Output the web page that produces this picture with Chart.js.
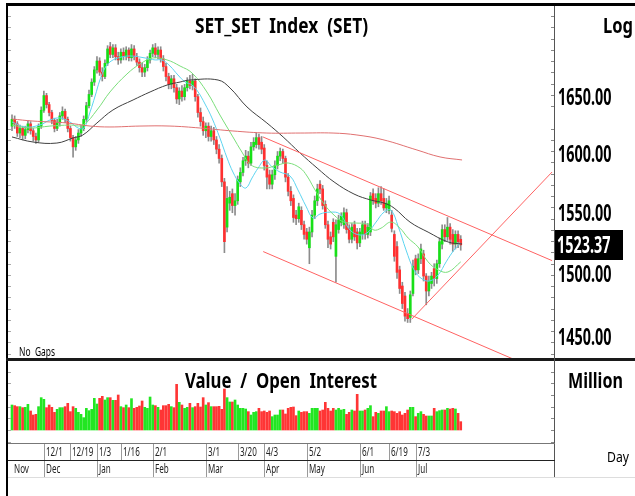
<!DOCTYPE html>
<html><head><meta charset="utf-8">
<title>SET_SET Index (SET)</title>
<script src="https://cdn.jsdelivr.net/npm/chart.js@4.4.1/dist/chart.umd.min.js"></script>
<style>
html,body{margin:0;padding:0;background:#fff;}
#wrap{position:relative;width:635px;height:496px;overflow:hidden;background:#fff;font-family:"Noto Sans",sans-serif;}
#wrap canvas{position:absolute;left:0;}
.t{position:absolute;white-space:pre;transform-origin:0 0;line-height:1;color:#000;}
.b{font-weight:bold;}
.ln{position:absolute;}
</style></head><body>
<div id="wrap">
<canvas id="priceChart" width="635" height="358" style="top:0px"></canvas>
<canvas id="volChart" width="635" height="118" style="top:360px"></canvas>
<div class="ln" style="left:6px;top:3px;width:629px;height:3px;background:#000"></div>
<div class="ln" style="left:6px;top:3px;width:2px;height:493px;background:#000"></div>
<div class="ln" style="left:6px;top:358px;width:629px;height:3px;background:#1a1a1a"></div>
<div class="ln" style="left:554px;top:6px;width:1px;height:472px;background:#555"></div>
<div class="ln" style="left:8px;top:443px;width:547px;height:1px;background:#777"></div>
<div class="ln" style="left:8px;top:460px;width:547px;height:1px;background:#222"></div>
<div class="ln" style="left:8px;top:477px;width:627px;height:1px;background:#ddd"></div>
<div class="ln" style="left:8px;top:6px;width:3px;height:352px;background:repeating-linear-gradient(to bottom,transparent 0,transparent 10.25px,#aaa 10.25px,#aaa 11.25px)"></div>
<div class="ln" style="left:8px;top:361px;width:3px;height:82px;background:repeating-linear-gradient(to bottom,transparent 0,transparent 10.7px,#aaa 10.7px,#aaa 11.7px)"></div>
<div class="ln" style="left:551px;top:6px;width:3px;height:352px;background:repeating-linear-gradient(to bottom,transparent 0,transparent 10.25px,#888 10.25px,#888 11.25px)"></div>
<div class="ln" style="left:551px;top:361px;width:3px;height:82px;background:repeating-linear-gradient(to bottom,transparent 0,transparent 10.7px,#888 10.7px,#888 11.7px)"></div>

<div class="t b" data-w="173" style="left:195px;top:13px;font-size:22px">SET_SET  Index  (SET)</div>
<div class="t b" data-w="30" style="left:603px;top:13px;font-size:22px">Log</div>
<div class="t" data-w="36" style="left:19px;top:346px;font-size:12px">No  Gaps</div>
<div class="t b" data-w="192" style="left:185px;top:368px;font-size:22px">Value  /  Open  Interest</div>
<div class="t b" data-w="55" style="left:568px;top:368px;font-size:22px">Million</div>
<div class="t" data-w="22" style="left:607px;top:450px;font-size:14px">Day</div>
</div>
<script>
// ---- data ----
const opens = [
1624,1630,1626,1618,1622,1616,1621,1626,1620,1615,
1612,1624,1638,1651,1643,1636,1629,1622,1627,1633,
1637,1630,1622,1614,1606,1612,1618,1622,1630,1642,
1652,1663,1674,1682,1672,1668,1680,1695,1688,1694,
1686,1683,1690,1686,1692,1685,1693,1686,1681,1676,
1672,1676,1683,1689,1694,1688,1692,1684,1677,1668,
1661,1666,1658,1648,1655,1650,1658,1664,1660,1664,
1650,1636,1628,1620,1624,1615,1620,1612,1604,1596,
1576,1538,1558,1566,1556,1560,1576,1584,1594,1598,
1592,1606,1608,1614,1610,1605,1590,1582,1574,1582,
1590,1598,1602,1596,1580,1568,1562,1548,1545,1552,
1540,1534,1521,1534,1548,1560,1574,1570,1557,1540,
1530,1542,1514,1536,1542,1540,1550,1537,1528,1540,
1534,1525,1532,1540,1532,1534,1566,1562,1558,1566,
1562,1554,1552,1548,1532,1522,1503,1490,1482,1468,
1465,1484,1512,1503,1512,1516,1498,1486,1492,1504,
1496,1508,1524,1536,1530,1538,1532,1524,1532,1528];
const highs = [
1634,1633,1628,1625,1624,1624,1629,1628,1622,1618,
1626,1641,1655,1653,1645,1638,1631,1630,1636,1641,
1639,1632,1624,1616,1615,1621,1625,1633,1645,1656,
1666,1677,1686,1685,1676,1683,1696,1699,1697,1697,
1690,1693,1694,1695,1694,1697,1696,1689,1684,1680,
1679,1686,1692,1697,1698,1695,1695,1687,1680,1671,
1669,1669,1661,1658,1660,1661,1667,1669,1670,1666,
1652,1640,1632,1627,1627,1624,1623,1615,1608,1599,
1579,1572,1568,1570,1566,1581,1588,1597,1603,1602,
1610,1614,1618,1617,1615,1608,1594,1586,1586,1594,
1602,1605,1604,1598,1583,1572,1565,1552,1558,1555,
1543,1537,1538,1552,1564,1574,1577,1573,1560,1543,
1534,1545,1544,1548,1550,1554,1553,1540,1541,1543,
1537,1537,1543,1543,1541,1567,1570,1566,1571,1572,
1570,1562,1564,1552,1535,1526,1506,1493,1485,1472,
1486,1511,1515,1516,1524,1519,1500,1498,1501,1508,
1511,1529,1540,1540,1546,1541,1536,1535,1535,1531];
const lows = [
1620,1622,1615,1614,1612,1613,1618,1617,1611,1609,
1610,1622,1636,1640,1633,1626,1619,1620,1624,1630,
1627,1619,1611,1597,1603,1609,1615,1620,1628,1640,
1650,1660,1671,1669,1664,1666,1678,1685,1685,1683,
1679,1680,1683,1683,1682,1682,1683,1678,1672,1668,
1668,1673,1680,1686,1685,1684,1681,1673,1664,1657,
1657,1654,1644,1643,1646,1647,1655,1657,1656,1646,
1632,1624,1616,1614,1611,1611,1608,1600,1592,1572,
1517,1534,1552,1550,1548,1557,1572,1581,1590,1588,
1590,1603,1605,1604,1600,1586,1570,1570,1570,1578,
1587,1594,1592,1576,1564,1556,1542,1540,1542,1536,
1528,1524,1508,1530,1545,1556,1566,1553,1537,1521,
1520,1526,1493,1533,1539,1537,1533,1525,1525,1527,
1520,1522,1528,1528,1529,1531,1557,1554,1555,1557,
1552,1550,1549,1534,1510,1496,1484,1472,1462,1461,
1461,1482,1499,1500,1508,1494,1475,1482,1488,1490,
1492,1505,1520,1526,1527,1524,1518,1520,1521,1519];
const closes = [
1630,1626,1618,1622,1616,1621,1626,1620,1615,1612,
1624,1638,1651,1643,1636,1629,1622,1627,1633,1637,
1630,1622,1614,1606,1612,1618,1622,1630,1642,1652,
1663,1674,1682,1672,1668,1680,1693,1688,1694,1686,
1683,1690,1686,1692,1685,1693,1686,1681,1676,1672,
1676,1683,1689,1694,1688,1692,1684,1677,1668,1661,
1666,1658,1648,1655,1650,1658,1664,1660,1664,1650,
1636,1628,1620,1624,1615,1620,1612,1604,1596,1576,
1526,1562,1563,1556,1560,1578,1584,1594,1598,1592,
1606,1610,1614,1608,1604,1590,1580,1574,1582,1590,
1598,1602,1596,1580,1568,1560,1546,1545,1555,1540,
1532,1528,1534,1548,1560,1570,1570,1556,1540,1528,
1524,1530,1540,1544,1547,1550,1536,1528,1538,1530,
1525,1534,1540,1532,1538,1564,1560,1558,1566,1560,
1554,1558,1560,1537,1514,1501,1488,1476,1466,1464,
1483,1506,1503,1512,1520,1498,1486,1494,1498,1496,
1508,1526,1536,1530,1538,1528,1524,1532,1526,1523.37];
// traded value, billion baht (panel "Value / Open Interest", Million)
const volumes = [
50,48.7,46.7,46.7,44.7,45.3,51.3,38,30,31.3,
46.7,64.7,61.3,44.7,50,45.3,35.3,41.3,44.7,44.7,
46.7,53.3,36.7,46.7,43.3,35.3,31.3,24.7,43.3,38.7,
41.3,63.3,52,63.3,67.3,60,64.7,64.7,59.3,59.3,
70,46.7,44.7,50,44.7,62.7,43.3,45.3,48,58,
45.3,43.3,66,50,48.7,45.3,40,48.7,48.7,51.3,
46.7,44.7,91.3,55.3,50,43.3,45.3,53.3,44.7,46.7,
53.3,46,64.7,50,54.7,46.7,46.7,46.7,47.3,41.3,
82,64.7,56,56,60,50,43.3,43.3,42,36.7,
30,35.3,36.7,43.3,36.7,38,35.3,38,26.7,30,
30,40,40,32,43.3,45.3,46,28.7,38,35.3,
36.7,36.7,33.3,43.3,43.3,43.3,38,40,55.3,43.3,
38,43.3,40,43.3,40,41.3,31.3,35.3,40,38,
71.3,38,38,40,43.3,48.7,26.7,35.3,33.3,38,
38,46.7,36.7,38,36.7,33.3,36.7,30,33.3,40,
45.3,45.3,26.7,33.3,36.7,31.3,28,28,28,43.3,
36.7,38.7,40,40,43.3,42,43.3,42,33.3,16.7];
// moving averages: [day index, price]
const cyanMA = [[0,1627.7],[4.9,1623.3],[10.5,1625.0],[14.3,1629.4],[18.1,1631.2],[21.8,1627.7],[24.9,1622.4],[27.1,1622.4],[29.4,1636.5],[31.3,1650.6],[33.1,1664.9],[35,1675.7],[36.9,1681.2],[39.9,1684.8],[44.4,1686.6],[50.1,1684.8],[53.9,1683.0],[56.5,1683.0],[59.5,1677.5],[62.5,1669.4],[65.2,1663.1],[67.8,1660.4],[70.1,1654.2],[72.7,1643.5],[75.3,1631.2],[78.3,1613.7],[81,1596.4],[83.2,1584.4],[85.9,1574.2],[88.1,1570.8],[90.4,1579.3],[92.7,1587.8],[95.3,1594.7],[97.6,1589.5],[100.9,1584.4],[104.7,1581.0],[107.7,1569.1],[110.7,1555.6],[113.4,1545.5],[116,1548.9],[119.8,1550.5],[123.5,1548.9],[127.3,1535.6],[131.1,1531.5],[134.1,1533.9],[137.1,1542.2],[140.1,1550.5],[142.7,1552.2],[145.4,1538.9],[148.4,1519.2],[151.4,1503.0],[154.4,1495.7],[157.4,1494.1],[160.5,1498.9],[163.5,1509.5],[166.5,1519.2],[169,1525.0]];
const greenMA = [[0,1625.0],[6.8,1622.4],[14.3,1624.1],[21.8,1625.0],[26.7,1625.0],[32,1638.2],[36.9,1654.2],[43.3,1670.3],[48.2,1679.3],[53.1,1684.8],[58.4,1683.0],[63.3,1677.5],[67.8,1671.2],[73.4,1654.2],[78.3,1633.8],[83.2,1614.6],[86.6,1601.5],[90,1590.4],[95.3,1587.8],[100.2,1590.4],[104,1592.1],[108.5,1587.8],[111.1,1581.0],[113.7,1570.8],[117.5,1557.3],[121.3,1548.0],[125,1542.2],[129.6,1541.4],[133.7,1540.5],[136.3,1535.6],[139,1537.2],[142.7,1542.2],[146.1,1537.2],[149.2,1529.0],[152.9,1521.7],[156.7,1509.5],[160.5,1503.0],[164.2,1501.3],[169,1509.5]];
const blackMA = [[0,1614.6],[7.9,1610.2],[16.9,1609.3],[23,1613.7],[26.7,1616.3],[32,1626.8],[38,1638.2],[45.6,1647.1],[52,1654.2],[58.4,1660.4],[63.3,1663.1],[67,1664.9],[77.6,1664.9],[82.1,1657.8],[88.5,1640.9],[96,1626.8],[102.1,1614.6],[108.5,1600.7],[114.9,1587.8],[121.3,1575.9],[128.8,1565.7],[135.2,1560.6],[140.1,1558.1],[143.9,1553.9],[149.9,1542.2],[156.7,1533.9],[164.2,1525.8],[169.5,1524.1]];
const redMA = [[0,1630.3],[7.9,1628.5],[20.7,1626.8],[29.4,1624.1],[36.9,1623.3],[48.2,1624.1],[59.5,1624.1],[70.8,1622.4],[83.2,1619.8],[96,1618.0],[108.5,1618.0],[120.9,1618.0],[129.9,1616.3],[139.7,1612.2],[152.5,1603.3],[161.2,1597.3],[169.5,1594.7]];
// trend lines: [day index, price]
const upperTrend = [[94.5,1614.6],[203.4,1510.5]];
const lowerTrend = [[94.6,1517.9],[190,1431.4]];
const supportTrend = [[150.5,1463.5],[203.4,1584.4]];
// axis labels
const priceTicks = [1450,1500,1550,1600,1650];
const dayTickLabels = ['12/1','12/19','1/3','1/16','2/1','3/1','3/20','4/3','5/2','6/1','6/19','7/3'];
const dayTickIdx = [12,22,32,41,53,73,85,95,111,131,142,152];
const monthLabels = ['Nov','Dec','Jan','Feb','Mar','Apr','May','Jun','Jul'];
const monthIdx = [0,12,32,53,73,95,111,131,152];

// ---- rendering ----
Chart.defaults.font.family = '"Noto Sans", sans-serif';
const GREEN = '#17e017', RED = '#ff3030';
const idxs = closes.map((_, i) => i);
const up = idxs.map(i => closes[i] >= opens[i]);
const candleColors = up.map(u => u ? GREEN : RED);
const volColors = up.map(u => u ? '#22e622' : '#ff3535');
const pts = arr => arr.map(([x, y]) => ({x, y}));
const line = (arr, c) => ({type:'line', data: pts(arr), borderColor:c, borderWidth:1, pointRadius:0, tension:0.4, fill:false, order:1});
const trend = arr => ({type:'line', data: pts(arr), borderColor:'#ff6262', borderWidth:1, pointRadius:0, tension:0, fill:false, order:0});
const xOpts = () => ({type:'linear', min:-1.13, max:204.5, display:false, bounds:'data', offset:false, grid:{offset:false}});

function squeezed(ctx, text, x, y, sx) {
  ctx.save(); ctx.translate(x, y); ctx.scale(sx, 1); ctx.fillText(text, 0, 0); ctx.restore();
}

const priceLabelPlugin = {
  id: 'priceLabels',
  afterDraw(chart) {
    const ctx = chart.ctx, ys = chart.scales.y;
    ctx.save();
    ctx.font = 'bold 24px "Noto Sans"';
    ctx.textBaseline = 'alphabetic';
    ctx.fillStyle = '#000';
    priceTicks.forEach(v => squeezed(ctx, v.toFixed(2), 558, ys.getPixelForValue(v) + 8.6, 0.6));
    const last = closes[closes.length - 1];
    const py = ys.getPixelForValue(last);
    ctx.fillStyle = '#000';
    ctx.fillRect(555, Math.round(py) - 15, 68, 30);
    ctx.fillStyle = '#fff';
    squeezed(ctx, last.toFixed(2), 557, py + 8.6, 0.6);
    ctx.restore();
  }
};

const dateAxisPlugin = {
  id: 'dateAxis',
  afterDraw(chart) {
    const ctx = chart.ctx, xs = chart.scales.x;
    ctx.save();
    ctx.strokeStyle = '#9a9a9a'; ctx.lineWidth = 1;
    ctx.fillStyle = '#222';
    ctx.font = '13px "Noto Sans"';
    const dTop = 83, dBot = 100, mTop = 100, mBot = 117;
    dayTickIdx.forEach((d, k) => {
      const px = Math.round(xs.getPixelForValue(d)) + 0.5;
      ctx.beginPath(); ctx.moveTo(px, dTop); ctx.lineTo(px, dBot); ctx.stroke();
      squeezed(ctx, dayTickLabels[k], px + 1.5, (dTop + dBot) / 2 + 4.6, 0.62);
    });
    monthIdx.forEach((d, k) => {
      const px = Math.round(xs.getPixelForValue(d)) + 0.5;
      if (d > 0) { ctx.beginPath(); ctx.moveTo(px, mTop); ctx.lineTo(px, mBot); ctx.stroke(); }
      squeezed(ctx, monthLabels[k], px + 1.5, (mTop + mBot) / 2 + 4.6, 0.62);
    });
    ctx.restore();
  }
};

const common = {responsive:false, animation:false, events:[], plugins:{legend:{display:false}, tooltip:{enabled:false}, title:{display:false}}};

new Chart(document.getElementById('priceChart'), {
  type: 'bar',
  data: { datasets: [
    {type:'bar', data: idxs.map(i => ({x:i, y:[lows[i], highs[i]]})), backgroundColor:'#8c8c8c', barThickness:1, grouped:false, order:3},
    {type:'bar', data: idxs.map(i => ({x:i, y:[opens[i], closes[i]]})), backgroundColor:candleColors, barThickness:2, grouped:false, minBarLength:1, order:2},
    line(redMA, '#e07070'), line(blackMA, '#404040'), line(greenMA, '#7ade7a'), line(cyanMA, '#5cd4f0'),
    trend(upperTrend), trend(lowerTrend), trend(supportTrend)
  ]},
  options: Object.assign({}, common, {
    layout:{padding:{left:9, right:80, top:7, bottom:0}},
    scales:{ x: xOpts(), y:{type:'logarithmic', min:1433.3, max:1731.7, display:false, bounds:'data'} }
  }),
  plugins:[priceLabelPlugin]
});

new Chart(document.getElementById('volChart'), {
  type: 'bar',
  data: { datasets: [
    {data: idxs.map(i => ({x:i, y:volumes[i]})), backgroundColor:volColors, barThickness:2, grouped:false}
  ]},
  options: Object.assign({}, common, {
    layout:{padding:{left:9, right:80, top:3, bottom:35}},
    scales:{ x: xOpts(), y:{type:'linear', min:-26, max:134, display:false} }
  }),
  plugins:[dateAxisPlugin]
});

function fitText() {
  document.querySelectorAll('.t').forEach(el => {
    el.style.transform = 'none';
    const w = el.getBoundingClientRect().width;
    el.style.transform = 'scaleX(' + (+el.dataset.w / w) + ')';
  });
}
fitText();
if (document.fonts && document.fonts.ready) document.fonts.ready.then(fitText);
</script>
</body></html>
